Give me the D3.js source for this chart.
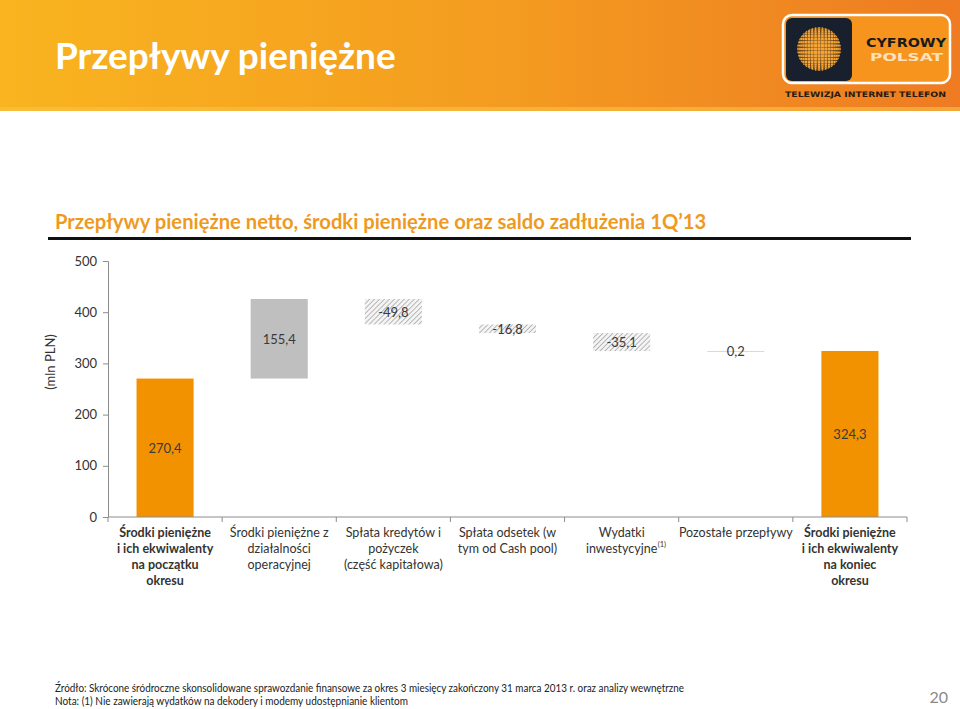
<!DOCTYPE html>
<html lang="pl">
<head>
<meta charset="UTF-8">
<title>Przepływy pieniężne</title>
<script src="https://d3js.org/d3.v7.min.js"></script>
<style>
  body { margin:0; background:#fff; }
  svg text { font-family: Lato, "Open Sans", sans-serif; }
  svg text.logo { font-family: "DejaVu Sans", sans-serif; font-weight: bold; }
</style>
</head>
<body>
<svg id="chart" width="960" height="709"></svg>
<script>
// data
var categories = [
  ["Środki pieniężne","i ich ekwiwalenty","na początku","okresu"],
  ["Środki pieniężne z","działalności","operacyjnej"],
  ["Spłata kredytów i","pożyczek","(część kapitałowa)"],
  ["Spłata odsetek (w","tym od Cash pool)"],
  ["Wydatki","inwestycyjne"],
  ["Pozostałe przepływy"],
  ["Środki pieniężne","i ich ekwiwalenty","na koniec","okresu"]
];
var values = [270.4, 155.4, -49.8, -16.8, -35.1, 0.2, 324.3];
var kinds  = ["total","up","down","down","down","down","total"];
var labels = ["270,4","155,4","-49,8","-16,8","-35,1","0,2","324,3"];
var yTicks = [0,100,200,300,400,500];

var svg = d3.select("#chart");
var defs = svg.append("defs");

// header band
var grad = defs.append("linearGradient").attr("id","hdr").attr("x1","0").attr("x2","1");
grad.append("stop").attr("offset","0").attr("stop-color","#f9b41f");
grad.append("stop").attr("offset","0.5").attr("stop-color","#f49d20");
grad.append("stop").attr("offset","1").attr("stop-color","#ee7b22");
svg.append("rect").attr("x",0).attr("y",0).attr("width",960).attr("height",111).attr("fill","url(#hdr)");
svg.append("rect").attr("x",0).attr("y",107).attr("width",960).attr("height",4).attr("fill","#f7c34a").attr("opacity",0.6);

svg.append("text").attr("x",55).attr("y",69)
  .attr("fill","#fff").attr("font-size",37).attr("font-weight","bold")
  .text("Przepływy pieniężne");

// logo
var logo = svg.append("g");
logo.append("rect").attr("x",783).attr("y",15).attr("width",167).attr("height",68).attr("rx",9)
  .attr("fill","#f7941d").attr("stroke","#fff").attr("stroke-width",2.5);
logo.append("rect").attr("x",786).attr("y",18).attr("width",66).attr("height",63).attr("rx",6).attr("fill","#17202c");
var gx = 819, gy = 49, gr = 22;
defs.append("clipPath").attr("id","globe").append("circle").attr("cx",gx).attr("cy",gy).attr("r",gr);
var dots = logo.append("g").attr("clip-path","url(#globe)");
dots.append("circle").attr("cx",gx).attr("cy",gy).attr("r",gr).attr("fill","#6b4a1c");
var ang = d3.range(-9,10).map(function(i){ return i*Math.PI/20; });
ang.forEach(function(a){
  ang.forEach(function(b){
    var px = gx + gr*Math.sin(a), py = gy + gr*Math.sin(b);
    var s = 2.6*Math.cos(a)*Math.cos(b)+0.5;
    dots.append("rect").attr("x",px-s/2).attr("y",py-s/2).attr("width",s).attr("height",s).attr("fill","#f6a53a");
  });
});
logo.append("text").attr("class","logo").attr("x",866).attr("y",47)
  .attr("font-size",12).attr("fill","#1a1a1a").attr("textLength",80).attr("lengthAdjust","spacingAndGlyphs").text("CYFROWY");
logo.append("text").attr("class","logo").attr("x",870).attr("y",61)
  .attr("font-size",10).attr("fill","#fde2bd").attr("textLength",73).attr("lengthAdjust","spacingAndGlyphs").text("POLSAT");
logo.append("text").attr("class","logo").attr("x",785).attr("y",97)
  .attr("font-size",7.5).attr("fill","#2a1a10").attr("textLength",161).attr("lengthAdjust","spacingAndGlyphs")
  .text("TELEWIZJA INTERNET TELEFON");

// subtitle
svg.append("text").attr("x",55).attr("y",229)
  .attr("fill","#ee9a1f").attr("font-size",20.2).attr("font-weight","bold")
  .text("Przepływy pieniężne netto, środki pieniężne oraz saldo zadłużenia 1Q’13");
svg.append("rect").attr("x",48).attr("y",237).attr("width",863).attr("height",3).attr("fill","#111");

// hatch
var pat = defs.append("pattern").attr("id","hatch").attr("patternUnits","userSpaceOnUse")
  .attr("width",3.5).attr("height",3.5).attr("patternTransform","rotate(45)");
pat.append("rect").attr("width",3.5).attr("height",3.5).attr("fill","#f4f4f4");
pat.append("line").attr("x1",0).attr("y1",0).attr("x2",0).attr("y2",3.5).attr("stroke","#a9a9a9").attr("stroke-width",1.6);

// scales
var x = d3.scaleBand().domain(d3.range(categories.length)).range([108,907]).paddingInner(0.5).paddingOuter(0.25);
var y = d3.scaleLinear().domain([0,500]).range([517,261]);

// waterfall extents
var run = 0;
var bars = values.map(function(v,i){
  var lo, hi;
  if (kinds[i] === "total") { lo = 0; hi = v; run = v; }
  else { var s = run; run = run + v; lo = Math.min(s,run); hi = Math.max(s,run); }
  return {i:i, lo:lo, hi:hi, kind:kinds[i], label:labels[i]};
});

var fills = {total:"#f39200", up:"#bfbfbf", down:"url(#hatch)"};
svg.append("g").selectAll("rect").data(bars).enter().append("rect")
  .attr("x",function(d){ return x(d.i); })
  .attr("width",x.bandwidth())
  .attr("y",function(d){ return y(d.hi); })
  .attr("height",function(d){ return Math.max(1, y(d.lo)-y(d.hi)); })
  .attr("fill",function(d){ return (y(d.lo)-y(d.hi)) < 1.5 ? "#d9d9d9" : fills[d.kind]; });

svg.append("g").selectAll("text").data(bars).enter().append("text")
  .attr("x",function(d){ return x(d.i)+x.bandwidth()/2; })
  .attr("y",function(d){ return (y(d.lo)+y(d.hi))/2 + 5; })
  .attr("text-anchor","middle").attr("font-size",13).attr("fill","#3a3a3a")
  .text(function(d){ return d.label; });

// axes
var yAxis = svg.append("g").attr("transform","translate(108,0)")
  .call(d3.axisLeft(y).tickValues(yTicks).tickSize(5).tickPadding(6).tickFormat(d3.format("d")));
var ticksX = d3.range(categories.length+1).map(function(i){ return 108 + i*x.step(); });
var xAxis = svg.append("g");
xAxis.append("line").attr("x1",108).attr("x2",907).attr("y1",517).attr("y2",517);
xAxis.selectAll("line.t").data(ticksX).enter().append("line").attr("class","t")
  .attr("x1",function(d){return d;}).attr("x2",function(d){return d;}).attr("y1",517).attr("y2",522);
xAxis.selectAll("line").attr("stroke","#8c8c8c");
yAxis.select(".domain").attr("stroke","#8c8c8c").attr("d","M-5,261.5H0.5V517");
yAxis.selectAll(".tick line").attr("stroke","#8c8c8c");
yAxis.selectAll(".tick text").attr("font-size",13).attr("fill","#333").attr("font-family","Lato, sans-serif");

svg.append("text").attr("transform","translate(55,362) rotate(-90)")
  .attr("text-anchor","middle").attr("font-size",13).attr("fill","#333").text("(mln PLN)");

// category labels
var cat = svg.append("g").selectAll("text").data(categories).enter().append("text")
  .attr("text-anchor","middle").attr("font-size",12.5).attr("fill","#333")
  .attr("font-weight",function(d,i){ return (i===0||i===categories.length-1) ? "bold" : "normal"; });
cat.each(function(lines,i){
  var t = d3.select(this), cx = x(i)+x.bandwidth()/2;
  lines.forEach(function(l,k){
    t.append("tspan").attr("x",cx).attr("y",537+k*16).text(l);
  });
});
// superscript on "inwestycyjne"
svg.append("text").attr("x",x(4)+x.bandwidth()/2+36).attr("y",547)
  .attr("font-size",7.5).attr("fill","#333").text("(1)");

// footer
svg.append("text").attr("x",55).attr("y",692).attr("font-size",10.5).attr("fill","#222")
  .attr("textLength",629).attr("lengthAdjust","spacingAndGlyphs")
  .text("Źródło: Skrócone śródroczne skonsolidowane sprawozdanie finansowe za okres 3 miesięcy zakończony 31 marca 2013 r. oraz analizy wewnętrzne");
svg.append("text").attr("x",55).attr("y",705).attr("font-size",10.5).attr("fill","#222")
  .attr("textLength",353).attr("lengthAdjust","spacingAndGlyphs")
  .text("Nota: (1) Nie zawierają wydatków na dekodery i modemy udostępnianie klientom");
svg.append("text").attr("x",948).attr("y",703).attr("text-anchor","end").attr("font-size",16).attr("fill","#8a8a8a").text("20");
</script>
</body>
</html>
